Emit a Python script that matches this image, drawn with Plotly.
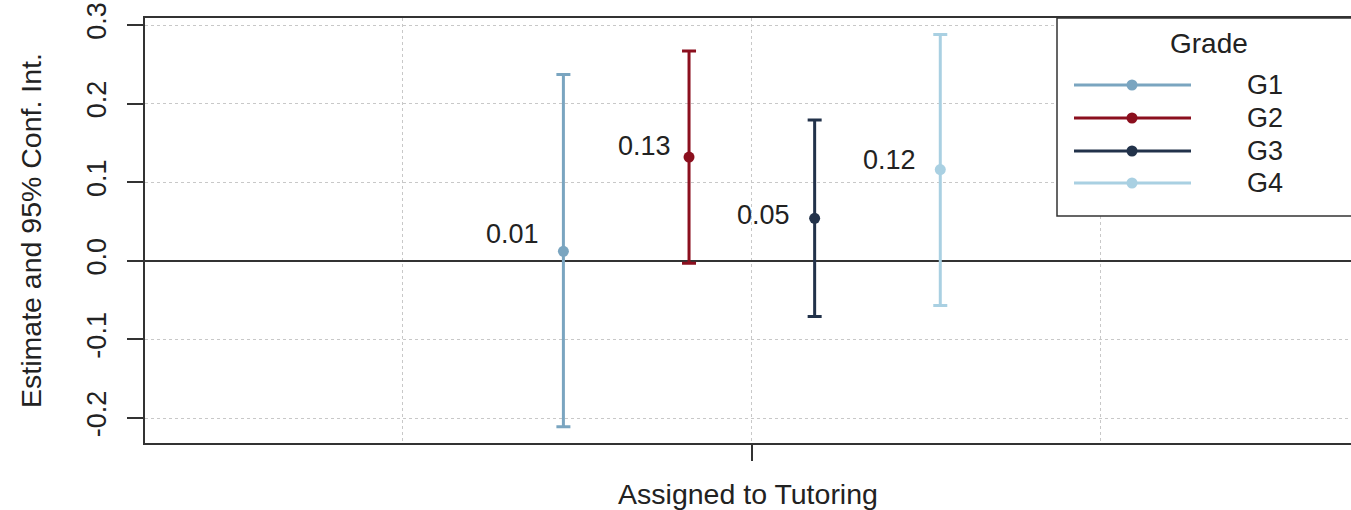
import plotly.graph_objects as go

# ---- data ----
groups = ["G1", "G2", "G3", "G4"]
estimates = [0.012, 0.132, 0.054, 0.116]
ci_upper = [0.237, 0.267, 0.179, 0.288]
ci_lower = [-0.211, -0.003, -0.071, -0.057]
est_labels = ["0.01", "0.13", "0.05", "0.12"]
colors = ["#7AA5C0", "#8B0F1E", "#22324A", "#A9D0E2"]
y_ticks = [-0.2, -0.1, 0.0, 0.1, 0.2, 0.3]
y_ticktext = ["-0.2", "-0.1", "0.0", "0.1", "0.2", "0.3"]
x_title = "Assigned to Tutoring"
y_title = "Estimate and 95% Conf. Int."
legend_title = "Grade"

# ---- layout constants ----
W, H = 1351, 510
ML, MR, MT, MB = 145, 0, 18, 67
PW, PH = W - ML - MR, H - MT - MB
FONT = "Liberation Sans, Arial, sans-serif"
FS = 27
FS_TITLE = 28.5
dodge = 0.36
label_xshift = [-22, -16, -23, -22]
label_yshift = [17, 11, 3, 10]

fig = go.Figure()
for i, g in enumerate(groups):
    xpos = (i - (len(groups) - 1) / 2) * dodge
    fig.add_trace(go.Scatter(
        x=[xpos], y=[estimates[i]], mode="markers", name=g, showlegend=False,
        marker=dict(color=colors[i], size=11),
        error_y=dict(type="data", symmetric=False,
                     array=[ci_upper[i] - estimates[i]],
                     arrayminus=[estimates[i] - ci_lower[i]],
                     color=colors[i], thickness=3, width=7),
    ))
    fig.add_annotation(x=xpos, y=estimates[i], text=est_labels[i], showarrow=False,
                       xanchor="right", yanchor="middle",
                       xshift=label_xshift[i], yshift=label_yshift[i],
                       font=dict(family=FONT, size=FS, color="#222"))

# manual legend (R-style box)
def px(xp):
    return (xp - ML) / PW

def py(yp):
    return (H - MB - yp) / PH

fig.add_shape(type="rect", xref="paper", yref="paper",
              x0=px(1057), x1=1.1, y0=py(216), y1=1.0,
              line=dict(color="#333", width=1.5), fillcolor="white", layer="above")
fig.add_annotation(xref="paper", yref="paper", x=px(1209), y=py(44), text=legend_title,
                   showarrow=False, xanchor="center", yanchor="middle",
                   font=dict(family=FONT, size=28, color="#222"))
leg_y = [85, 118, 151, 183]
for i, g in enumerate(groups):
    fig.add_shape(type="line", xref="paper", yref="paper",
                  x0=px(1074), x1=px(1191), y0=py(leg_y[i]), y1=py(leg_y[i]),
                  line=dict(color=colors[i], width=3), layer="above")
    fig.add_shape(type="circle", xref="paper", yref="paper",
                  xsizemode="pixel", ysizemode="pixel",
                  xanchor=px(1132), yanchor=py(leg_y[i]),
                  x0=-5.5, x1=5.5, y0=-5.5, y1=5.5,
                  line=dict(color=colors[i], width=0), fillcolor=colors[i], layer="above")
    fig.add_annotation(xref="paper", yref="paper", x=px(1245), y=py(leg_y[i]), text=g,
                       showarrow=False, xanchor="left", yanchor="middle",
                       font=dict(family=FONT, size=FS, color="#222"))

grid = dict(showgrid=True, gridcolor="#C8C8C8", gridwidth=1, griddash="dot")
fig.update_layout(
    width=W, height=H, margin=dict(l=ML, r=MR, t=MT, b=MB, autoexpand=False),
    plot_bgcolor="white", paper_bgcolor="white",
    font=dict(family=FONT, size=FS, color="#222"),
    xaxis=dict(range=[-1.739, 1.717], tickvals=[0], ticktext=[""], ticks="outside",
               ticklen=16, tickwidth=1.5, tickcolor="#333",
               showline=True, mirror=True, linecolor="#333", linewidth=1.5,
               zeroline=False, **grid,
               minor=dict(tickvals=[-1, 1], showgrid=True, gridcolor="#C8C8C8",
                          griddash="dot", gridwidth=1, ticks=""),
               title=dict(text=x_title, standoff=20, font=dict(size=FS_TITLE, family=FONT)),
               automargin=False, fixedrange=True),
    yaxis=dict(range=[-0.2318, 0.3089], tickvals=y_ticks, ticktext=y_ticktext,
               ticks="outside", ticklen=16, tickwidth=1.5, tickcolor="#333",
               tickangle=-90, ticklabelstandoff=10,
               tickfont=dict(size=FS, family=FONT),
               showline=True, mirror=False, linecolor="#333", linewidth=1.5,
               zeroline=True, zerolinecolor="#333", zerolinewidth=1.5, **grid,
               title=dict(text=y_title, standoff=32, font=dict(size=FS_TITLE, family=FONT)),
               automargin=False, fixedrange=True),
)
fig.write_html("out.html", config={"displayModeBar": False},
               post_script="document.body.style.margin='0';document.body.style.overflow='hidden';")
